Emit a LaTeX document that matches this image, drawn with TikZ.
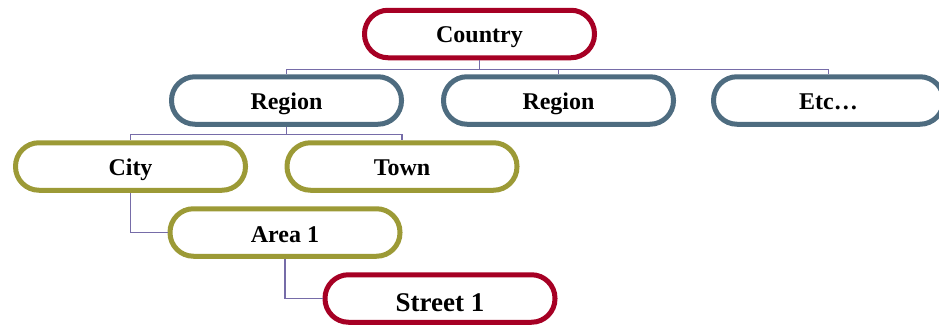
\documentclass[tikz,border=0pt]{standalone}
\usepackage{fontspec}
\setmainfont{Liberation Serif}
\definecolor{boxred}{RGB}{166,0,36}
\definecolor{boxblue}{RGB}{78,108,128}
\definecolor{boxolive}{RGB}{156,154,54}
\definecolor{linkpurple}{RGB}{118,108,168}
\begin{document}
\begin{tikzpicture}[x=1pt,y=-1pt,
    level/.style={draw=#1, line width=5pt, fill=white, rounded corners=23.5pt,
        minimum width=230pt, minimum height=47.5pt, inner sep=0pt,
        text height=17.5pt, text depth=0pt,
        font=\fontsize{24}{27}\selectfont\bfseries},
    link/.style={draw=linkpurple, line width=1.4pt}]
        \useasboundingbox (0,0) rectangle (939,327);
\node [level=boxred] (country) at (479.5,34.0) {Country};
\node [level=boxblue] (regiona) at (286.5,100.5) {Region};
\node [level=boxblue] (regionb) at (558.5,100.5) {Region};
\node [level=boxblue] (etc) at (828.5,100.5) {Etc\dots};
\node [level=boxolive] (city) at (130.5,166.5) {City};
\node [level=boxolive] (town) at (402.0,166.5) {Town};
\node [level=boxolive, text height=20pt] (area) at (285.0,232.5) {Area 1};
\node [level=boxred, text height=26pt, font=\fontsize{27}{30}\selectfont\bfseries] (street) at (440.0,298.5) {Street 1};
\draw [link] (country.south) -- ++(0,9.5) -| (regiona.north);
\draw [link] (country.south) -- ++(0,9.5) -| (regionb.north);
\draw [link] (country.south) -- ++(0,9.5) -| (etc.north);
\draw [link] (regiona.south) -- ++(0,8) -| (city.north);
\draw [link] (regiona.south) -- ++(0,8) -| (town.north);
\draw [link] (city.south) |- (area.west);
\draw [link] (area.south) |- (street.west);
    \end{tikzpicture}
\end{document}
